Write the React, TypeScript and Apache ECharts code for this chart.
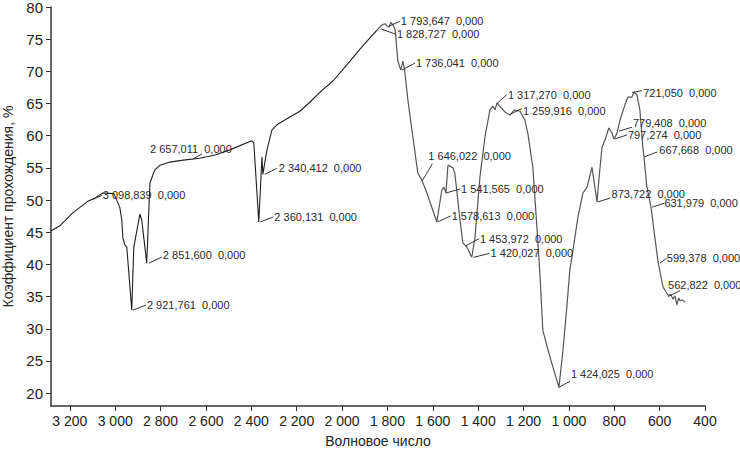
import React, { useEffect, useRef } from "react";
import * as echarts from "echarts";

// Spectrum: wavenumber (cm-1) and transmittance (%)
const waveNumbers = [
  3283, 3244, 3187, 3121, 3090, 3054, 3006, 2980, 2971, 2966, 2957, 2949, 2927, 2918, 2891, 2883, 2861,
  2847, 2834, 2825, 2803, 2759, 2700, 2627, 2560, 2495, 2398, 2389, 2367, 2353, 2349, 2331, 2309, 2287,
  2230, 2186, 2142, 2090, 2040, 1965, 1920, 1877, 1846, 1824, 1811, 1800, 1793, 1785, 1775, 1766, 1760,
  1754, 1741, 1732, 1724, 1710, 1692, 1666, 1648, 1626, 1582, 1560, 1551, 1542, 1533, 1511, 1503, 1480,
  1467, 1450, 1428, 1414, 1392, 1370, 1348, 1335, 1326, 1317, 1305, 1282, 1260, 1240, 1215, 1195, 1181,
  1159, 1141, 1128, 1115, 1092, 1070, 1044, 1026, 1009, 996, 982, 960, 938, 920, 898, 890, 876, 868, 854,
  841, 824, 810, 801, 788, 775, 753, 740, 722, 713, 700, 687, 674, 669, 656, 638, 621, 607, 585, 563, 550,
  541, 532, 524, 516, 510, 500, 488,
];
const transmittance = [
  45.2, 46.0, 48.0, 49.8, 50.3, 51.1, 51.0, 48.9, 46.9, 44.1, 43.0, 42.7, 32.9, 42.7, 47.8, 46.9, 40.2,
  52.6, 53.9, 54.7, 55.4, 55.9, 56.2, 56.5, 57.0, 57.8, 59.2, 58.9, 46.6, 56.7, 54.0, 57.8, 60.9, 61.7,
  62.9, 63.8, 65.2, 67.0, 68.5, 71.6, 73.5, 75.2, 76.4, 77.2, 77.4, 77.0, 76.9, 77.6, 77.2, 76.5, 74.0,
  71.6, 70.2, 71.6, 70.2, 65.6, 60.9, 54.2, 53.1, 51.1, 46.6, 51.6, 52.0, 51.1, 55.4, 55.0, 54.2, 46.9,
  43.3, 42.7, 41.1, 44.2, 53.6, 59.8, 64.0, 64.6, 64.0, 65.1, 64.6, 63.7, 63.2, 64.0, 63.8, 62.5, 60.4,
  55.1, 45.8, 38.7, 29.8, 26.7, 24.0, 20.9, 26.7, 33.4, 39.1, 42.2, 47.4, 51.1, 52.0, 55.1, 53.1, 49.7, 53.1, 58.2,
  59.3, 61.2, 60.4, 59.5, 60.4, 62.4, 64.8, 66.0, 66.0, 66.8, 66.3, 64.0, 58.2, 56.7, 52.0, 48.9, 44.2, 40.4, 36.5, 35.2, 35.3,
  34.6, 35.1, 33.7, 34.8, 34.3, 34.5, 34.1,
];

// Peak annotations (anchor on the curve + label text)
const peakWave = [
  3098.839, 2921.761, 2851.6, 2657.011, 2340.412, 2360.131, 1793.647, 1828.727, 1736.041, 1646.022,
  1541.565, 1578.613, 1453.972, 1420.027, 1317.27, 1259.916, 1044, 721.05, 779.408, 797.274, 667.668,
  873.722, 631.979, 599.378, 562.822,
];
const peakValue = [
  50.1, 32.9, 40.2, 56.4, 54.0, 46.6, 77.0, 76.6, 70.2, 53.0, 51.1, 46.6, 42.9, 41.1, 65.0, 63.3, 20.9,
  66.7, 60.7, 59.5, 56.7, 49.7, 48.9, 40.2, 35.0,
];
const peakLabels = [
  "3 098,839  0,000", "2 921,761  0,000", "2 851,600  0,000", "2 657,011  0,000", "2 340,412  0,000",
  "2 360,131  0,000", "1 793,647  0,000", "1 828,727  0,000", "1 736,041  0,000", "1 646,022  0,000",
  "1 541,565  0,000", "1 578,613  0,000", "1 453,972  0,000", "1 420,027  0,000", "1 317,270  0,000",
  "1 259,916  0,000", "1 424,025  0,000", "721,050  0,000", "779,408  0,000", "797,274  0,000",
  "667,668  0,000", "873,722  0,000", "631,979  0,000", "599,378  0,000", "562,822  0,000",
];

// Layout only: leader end [dx, dy] and text position [dx, dy] relative to the anchor, in px
const leaderOffsets = [
  [9, -4], [13, -5], [13, -6], [9, -5], [12, -6], [13, -5], [11, -5], [14, 5], [13, -7], [10, -17],
  [14, -4], [13, -6], [13, -7], [16, -4], [10, -9], [12, -6], [11, -6], [10, -2], [13, -4], [12, -4],
  [13, -5], [13, -4], [12, -4], [7, -5], [12, -6],
];
const textOffsets = [
  [10, -4], [14, -5], [14, -8], [-43, -10], [14, -6], [14, -5], [12, -5], [16, 5], [14, -7], [6, -25],
  [15, -4], [14, -6], [14, -7], [17, -4], [11, -9], [13, -3], [12, -13], [11, 0], [14, -8], [13, -4],
  [15, -7], [14, -8], [12, -4], [7, -5], [0, -12],
];

const formatThousands = (v: number) => String(v).replace(/\B(?=(\d{3})+(?!\d))/g, " ");

export default function App() {
  const ref = useRef<HTMLDivElement>(null);

  useEffect(() => {
    if (!ref.current) return;
    const chart = echarts.init(ref.current, undefined, { renderer: "svg" });

    const points = waveNumbers.map((w, i) => [w, transmittance[i]]);
    const splitIdx = waveNumbers.indexOf(1846);
    const darkPart = points.slice(0, splitIdx + 1);
    const greyPart = points.slice(splitIdx);
    const peaks = peakWave.map((w, i) => [w, peakValue[i]]);

    const font = "Arial, 'Liberation Sans', sans-serif";

    chart.setOption({
      animation: false,
      backgroundColor: "#ffffff",
      grid: {
        left: 51,
        right: 35,
        top: 7,
        bottom: 47,
        containLabel: false,
        outerBoundsMode: "none",
      },
      xAxis: {
        type: "value",
        inverse: true,
        min: 400,
        max: 3283,
        interval: 200,
        name: "Волновое число",
        nameLocation: "middle",
        nameGap: 28,
        nameTextStyle: { color: "#222", fontSize: 14, fontFamily: font },
        axisLine: { show: true, onZero: false, lineStyle: { color: "#333", width: 1.5 } },
        axisTick: { show: true, inside: false, length: 5, lineStyle: { color: "#333" } },
        axisLabel: {
          color: "#222",
          fontSize: 14,
          fontFamily: font,
          margin: 8,
          showMaxLabel: false,
          formatter: (v: number) => formatThousands(v),
        },
        splitLine: { show: false },
      },
      yAxis: {
        type: "value",
        min: 18,
        max: 80,
        splitNumber: 12,
        name: "Коэффициент прохождения, %",
        nameLocation: "middle",
        nameGap: 36,
        nameTextStyle: { color: "#222", fontSize: 14, fontFamily: font },
        axisLine: { show: true, onZero: false, lineStyle: { color: "#333", width: 1.5 } },
        axisTick: { show: true, length: 5, lineStyle: { color: "#333" } },
        axisLabel: {
          color: "#222",
          fontSize: 15,
          fontFamily: font,
          margin: 8,
          showMinLabel: false,
        },
        splitLine: { show: false },
      },
      series: [
        {
          type: "line",
          data: darkPart,
          symbol: "none",
          lineStyle: { color: "#1e1e1e", width: 1.1 },
          z: 3,
        },
        {
          type: "line",
          data: greyPart,
          symbol: "none",
          lineStyle: { color: "#555", width: 1.2 },
          z: 3,
        },
        {
          type: "custom",
          data: peaks,
          clip: false,
          z: 5,
          encode: { x: 0, y: 1 },
          renderItem: (params: any, api: any) => {
            const i = params.dataIndex;
            const p = api.coord([api.value(0), api.value(1)]);
            const lo = leaderOffsets[i];
            const to = textOffsets[i];
            return {
              type: "group",
              children: [
                {
                  type: "line",
                  shape: { x1: p[0], y1: p[1], x2: p[0] + lo[0], y2: p[1] + lo[1] },
                  style: { stroke: "#333", lineWidth: 1 },
                },
                {
                  type: "text",
                  x: p[0] + to[0],
                  y: p[1] + to[1],
                  style: {
                    text: peakLabels[i],
                    fill: "#2a2a2a",
                    font: `11px ${font}`,
                    textAlign: "left",
                    textVerticalAlign: "middle",
                  },
                },
              ],
            };
          },
        },
      ],
    });

    return () => chart.dispose();
  }, []);

  return <div ref={ref} style={{ width: 740, height: 453, position: "absolute", left: 0, top: 0 }} />;
}
